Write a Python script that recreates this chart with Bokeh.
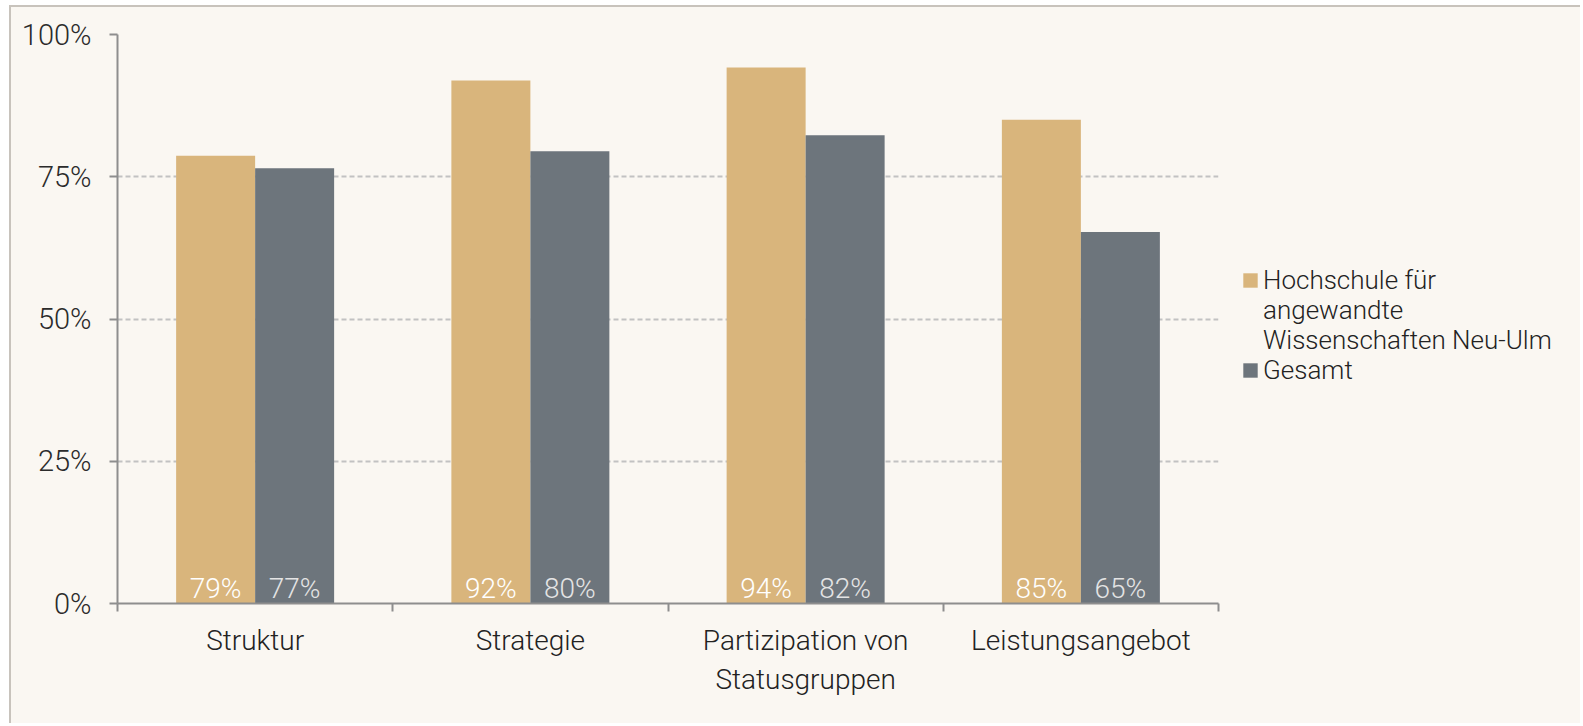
from bokeh.plotting import figure
from bokeh.layouts import row
from bokeh.models import ColumnDataSource, Range1d, FixedTicker, Legend, LegendItem
from bokeh.transform import dodge
from bokeh.core.properties import value
from bokeh.embed import file_html
from bokeh.resources import INLINE

categories = ["Struktur", "Strategie", "Partizipation von\nStatusgruppen", "Leistungsangebot"]
hs_values = [78.7, 91.9, 94.2, 85.0]
gesamt_values = [76.5, 79.5, 82.3, 65.3]
hs_labels = ["79%", "92%", "94%", "85%"]
gesamt_labels = ["77%", "80%", "82%", "65%"]
y_ticks = [0, 25, 50, 75, 100]
y_tick_labels = ["0%", "25%", "50%", "75%", "100%"]
# legend label of the first series, as it wraps in the reference
hs_name_lines = ["Hochschule für", "angewandte", "Wissenschaften Neu-Ulm"]
gesamt_name = "Gesamt"

GOLD = "#D9B57C"
GRAY = "#6D757C"
BG = "#FAF7F2"
AXIS = "#8E8E8E"
FONT = "'Roboto Light', Roboto, sans-serif"

centers = [i + 0.5 for i in range(len(categories))]
src = ColumnDataSource(dict(x=centers, hs=hs_values, ge=gesamt_values,
                            hs_lbl=hs_labels, ge_lbl=gesamt_labels))

p = figure(width=1209, height=716, x_range=Range1d(0, len(categories)), y_range=Range1d(0, 100),
           output_backend="svg", toolbar_location=None,
           min_border_left=106, min_border_right=2, min_border_top=27, min_border_bottom=120)
p.background_fill_color = BG
p.border_fill_color = BG
p.outline_line_color = None

p.xgrid.visible = False
p.ygrid.ticker = FixedTicker(ticks=[t for t in y_ticks if t > 0])
p.ygrid.grid_line_color = "#C2C2C2"
p.ygrid.grid_line_dash = "5 3"
p.ygrid.grid_line_width = 2

ya = p.yaxis[0]
ya.ticker = FixedTicker(ticks=y_ticks)
ya.major_label_overrides = dict(zip(y_ticks, y_tick_labels))
ya.axis_line_color = AXIS
ya.axis_line_width = 2
ya.major_tick_line_color = AXIS
ya.major_tick_line_width = 2
ya.major_tick_out = 8
ya.major_tick_in = 0
ya.minor_tick_line_color = None
ya.major_label_standoff = 18
ya.major_label_text_font = FONT
ya.major_label_text_font_size = "29px"
ya.major_label_text_color = "#2B2B2B"

xa = p.xaxis[0]
xa.ticker = FixedTicker(ticks=centers, minor_ticks=list(range(len(categories) + 1)))
xa.major_label_overrides = dict(zip(centers, categories))
xa.axis_line_color = AXIS
xa.axis_line_width = 2
xa.major_tick_line_color = None
xa.major_tick_out = 0
xa.major_tick_in = 0
xa.minor_tick_line_color = AXIS
xa.minor_tick_line_width = 2
xa.minor_tick_out = 8
xa.minor_tick_in = 0
xa.major_label_standoff = 12
xa.major_label_text_font = FONT
xa.major_label_text_font_size = "28px"
xa.major_label_text_color = "#222222"

W = 0.287
p.vbar(x=dodge("x", -W / 2, range=p.x_range), top="hs", width=W, bottom=0,
       fill_color=GOLD, line_color=None, source=src)
p.vbar(x=dodge("x", W / 2, range=p.x_range), top="ge", width=W, bottom=0,
       fill_color=GRAY, line_color=None, source=src)

p.text(x=dodge("x", -W / 2, range=p.x_range), y=2.6, text="hs_lbl", source=src,
       text_align="center", text_baseline="alphabetic", text_color="#FFFFFF",
       text_font=value(FONT), text_font_size="28px")
p.text(x=dodge("x", W / 2, range=p.x_range), y=2.6, text="ge_lbl", source=src,
       text_align="center", text_baseline="alphabetic", text_color="#E4E4E4",
       text_font=value(FONT), text_font_size="28px")

# legend panel: a separate figure to the right of the chart; its ranges lie
# away from the data so its bar renderers only supply the legend swatches
lp = figure(width=360, height=716, x_range=Range1d(-20, -19), y_range=Range1d(0, 100),
            output_backend="svg", toolbar_location=None,
            x_axis_type=None, y_axis_type=None, min_border=0)
lp.background_fill_color = BG
lp.border_fill_color = BG
lp.outline_line_color = None
lp.grid.visible = False
lg1 = lp.vbar(x="x", top="hs", width=W, source=src, fill_color=GOLD, line_color=None)
lg2 = lp.vbar(x="x", top="ge", width=W, source=src, fill_color=GRAY, line_color=None)
lgb = lp.vbar(x="x", top="hs", width=W, source=src, fill_color=None, line_color=None)

items = [LegendItem(label=hs_name_lines[0], renderers=[lg1])]
items += [LegendItem(label=t, renderers=[lgb]) for t in hs_name_lines[1:]]
items += [LegendItem(label=gesamt_name, renderers=[lg2])]
legend = Legend(items=items, location=(21, 218))
legend.padding = 0
legend.margin = 0
legend.spacing = 0
legend.border_line_color = None
legend.background_fill_alpha = 0
legend.glyph_width = 18
legend.glyph_height = 18
legend.label_height = 14
legend.label_standoff = 4
legend.label_text_font = FONT
legend.label_text_font_size = "26px"
legend.label_text_color = "#222222"
legend.label_text_line_height = 1.0
lp.add_layout(legend, "center")

layout = row(p, lp)
layout.styles = {"margin-top": "5px", "margin-left": "9px", "background-color": BG,
                 "border-top": "2px solid #C8C3BC", "border-left": "2px solid #C8C3BC"}

open("out.html", "w").write(file_html(layout, INLINE))
